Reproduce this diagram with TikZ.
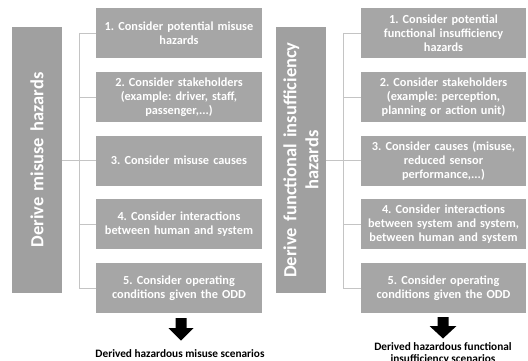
\documentclass[tikz,border=0pt]{standalone}
\usepackage{fontspec}
\setmainfont{Carlito}
\begin{document}
\frenchspacing
\begin{tikzpicture}[x=1pt,y=-1pt,
  boxfill/.style={fill={rgb,255:red,166;green,166;blue,166}},
  stepbox/.style={boxfill, draw=none, minimum width=166pt, minimum height=50pt,
    text width=164pt, align=center, inner sep=0pt, text=white,
    font=\bfseries\fontsize{12.3}{14}\selectfont},
  titlebox/.style={fill={rgb,255:red,160;green,160;blue,160}, draw=none, rotate=90,
    minimum width=266pt, minimum height=50pt, inner sep=0pt, text width=262pt,
    align=center, text=white, font=\bfseries\fontsize{18.5}{22}\selectfont},
  link/.style={draw={rgb,255:red,196;green,196;blue,196}, line width=0.9pt},
  result/.style={align=center, font=\bfseries\fontsize{11.3}{12.5}\selectfont},
  blockarrow/.style={fill=black}
]
\useasboundingbox (0,0) rectangle (528,361);

% ---- misuse hazards ----
\node[titlebox] (tL) at (37,160) {Derive misuse hazards};
\node[stepbox] (l1) at (179,33)    {1. Consider potential misuse\\hazards};
\node[stepbox] (l2) at (179,97)    {2. Consider stakeholders\\(example: driver, staff,\\passenger,...)};
\node[stepbox] (l3) at (179,160.5) {3. Consider misuse causes};
\node[stepbox] (l4) at (179,224)   {4. Consider interactions\\between human and system};
\node[stepbox] (l5) at (179,288)   {5. Consider operating\\conditions given the ODD};

\coordinate (bLtop) at (79,33);
\coordinate (bLbot) at (79,288);
\draw[link] (bLtop) -- (bLbot);
\foreach \k in {1,...,5} {\draw[link] (l\k.west -| bLtop) -- (l\k.west);}
\draw[link] (tL.south) -- (tL.south -| bLtop);

% block arrow, drawn from the middle of its shaft top
\coordinate (aL) at (181,318);
\fill[blockarrow] (aL) ++(-5.5,0) -- ++(11,0) -- ++(0,10) -- ++(7,0)
  -- ++(-12.5,12.5) -- ++(-12.5,-12.5) -- ++(7,0) -- cycle;
\node[result] (rL) at (180,354) {Derived hazardous misuse scenarios};

% ---- functional insufficiency hazards ----
\node[titlebox] (tR) at (301,160) {Derive functional insufficiency\\hazards};
\node[stepbox, minimum width=165pt] (r1) at (443.5,33)    {1. Consider potential\\functional insufficiency\\hazards};
\node[stepbox, minimum width=165pt] (r2) at (443.5,97)    {2. Consider stakeholders\\(example: perception,\\planning or action unit)};
\node[stepbox, minimum width=165pt] (r3) at (443.5,160.5) {3. Consider causes (misuse,\\reduced sensor\\performance,...)};
\node[stepbox, minimum width=165pt] (r4) at (443.5,224)   {4. Consider interactions\\between system and system,\\between human and system};
\node[stepbox, minimum width=165pt] (r5) at (443.5,288)   {5. Consider operating\\conditions given the ODD};

\coordinate (bRtop) at (343,33);
\coordinate (bRbot) at (343,288);
\draw[link] (bRtop) -- (bRbot);
\foreach \k in {1,...,5} {\draw[link] (r\k.west -| bRtop) -- (r\k.west);}
\draw[link] (tR.south) -- (tR.south -| bRtop);

\coordinate (aR) at (443,317);
\fill[blockarrow] (aR) ++(-5.5,0) -- ++(11,0) -- ++(0,9) -- ++(8,0)
  -- ++(-13.5,12.5) -- ++(-13.5,-12.5) -- ++(8,0) -- cycle;
\node[result] (rR) at (443,353.5) {Derived hazardous functional\\insufficiency scenarios};
\end{tikzpicture}
\end{document}
